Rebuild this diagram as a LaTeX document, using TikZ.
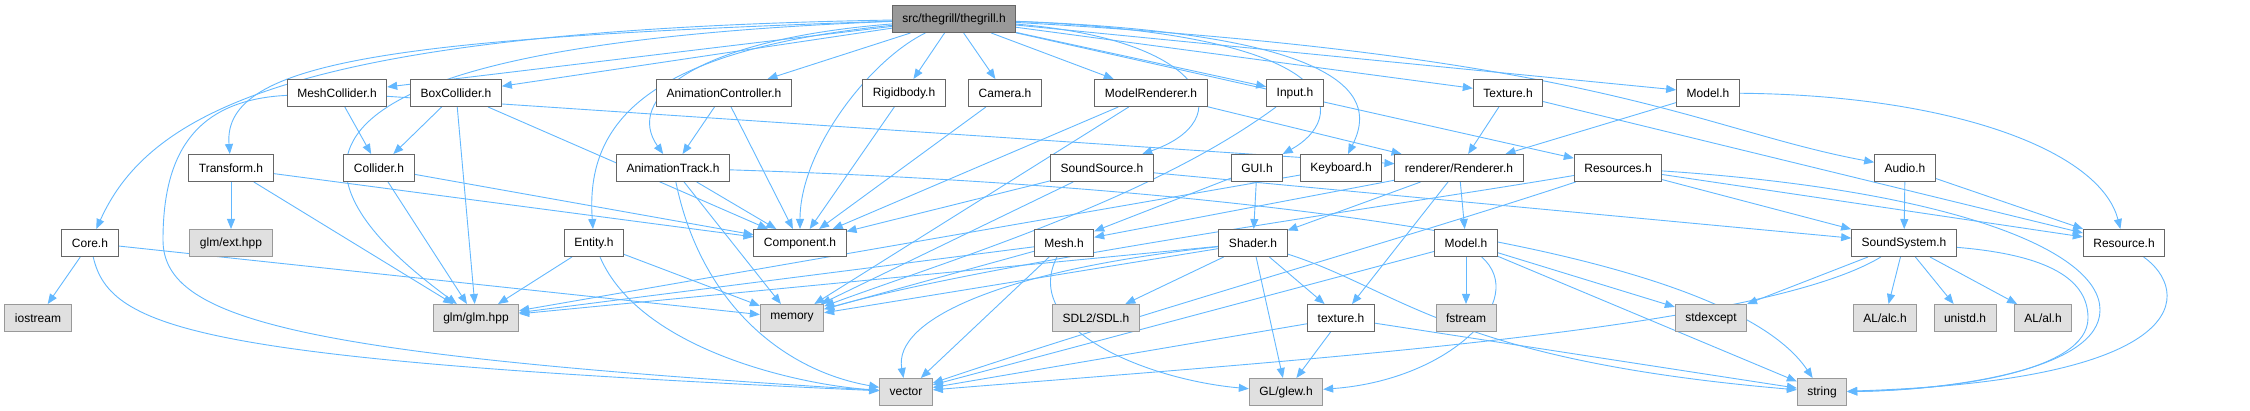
\documentclass[tikz,border=0pt]{standalone}
\usepackage{fontspec}
\setmainfont{Liberation Sans}
\usetikzlibrary{arrows.meta,backgrounds}
\definecolor{edgeblue}{HTML}{63B8FF}
\definecolor{boxline}{HTML}{666666}
\definecolor{sysline}{HTML}{999999}
\definecolor{sysfill}{HTML}{E0E0E0}
\definecolor{rootfill}{HTML}{999999}
\tikzset{
  hdr/.style={draw=boxline, fill=white, line width=1pt, minimum height=27, inner xsep=10, inner ysep=0, font=\fontsize{12}{14}\selectfont},
  sys/.style={hdr, draw=sysline, fill=sysfill},
  rootbox/.style={hdr, fill=rootfill},
  inc/.style={draw=edgeblue, line width=0.9pt, -{Triangle[length=10pt,width=8pt]}},
}
\begin{document}
\begin{tikzpicture}[x=1pt,y=-1pt]
\useasboundingbox (0,0) rectangle (2250,411);
% row 0
\node[rootbox] (r) at (954,19) {src/thegrill/thegrill.h};
% row 1
\node[hdr] (meshc) at (337,93) {MeshCollider.h};
\node[hdr] (boxc) at (456,93) {BoxCollider.h};
\node[hdr] (animctrl) at (724,93) {AnimationController.h};
\node[hdr] (rigid) at (904,93) {Rigidbody.h};
\node[hdr] (cam) at (1005,93) {Camera.h};
\node[hdr] (mrend) at (1151,93) {ModelRenderer.h};
\node[hdr] (input) at (1295,93) {Input.h};
\node[hdr] (Tex) at (1508,93) {Texture.h};
\node[hdr] (modtop) at (1708,93) {Model.h};
% row 2
\node[hdr] (tform) at (231,168) {Transform.h};
\node[hdr] (coll) at (379,168) {Collider.h};
\node[hdr] (animtr) at (673,168) {AnimationTrack.h};
\node[hdr] (ssrc) at (1102,168) {SoundSource.h};
\node[hdr] (gui) at (1257,168) {GUI.h};
\node[hdr] (kbd) at (1341,168) {Keyboard.h};
\node[hdr] (rend) at (1459,168) {renderer/Renderer.h};
\node[hdr] (ress) at (1618,168) {Resources.h};
\node[hdr] (audio) at (1905,168) {Audio.h};
% row 3
\node[hdr] (core) at (90,243) {Core.h};
\node[sys] (glmext) at (231,243) {glm/ext.hpp};
\node[hdr] (ent) at (594,243) {Entity.h};
\node[hdr] (comp) at (800,243) {Component.h};
\node[hdr] (mesh) at (1064,243) {Mesh.h};
\node[hdr] (shader) at (1253,243) {Shader.h};
\node[hdr] (modlow) at (1466,243) {Model.h};
\node[hdr] (ssys) at (1904,243) {SoundSystem.h};
\node[hdr] (res) at (2124,243) {Resource.h};
% row 4
\node[sys] (iostr) at (38,318) {iostream};
\node[sys] (glm) at (476,318) {glm/glm.hpp};
\node[sys] (mem) at (792,318) {memory};
\node[sys] (sdl) at (1096,318) {SDL2/SDL.h};
\node[hdr] (tex) at (1341,318) {texture.h};
\node[sys] (fstr) at (1466,318) {fstream};
\node[sys] (stdex) at (1711,318) {stdexcept};
\node[sys] (alc) at (1885,318) {AL/alc.h};
\node[sys] (unistd) at (1965,318) {unistd.h};
\node[sys] (al) at (2043,318) {AL/al.h};
% row 5
\node[sys] (vec) at (906,392) {vector};
\node[sys] (glew) at (1286,392) {GL/glew.h};
\node[sys] (str) at (1822,392) {string};

\begin{scope}[on background layer]
% from the main header
\draw[inc] (r) .. controls (300,30) and (150,110) .. (core);
\draw[inc] (r) .. controls (400,38) and (222,60) .. (tform);
\draw[inc] (r) -- (meshc);
\draw[inc] (r) -- (boxc);
\draw[inc] (r) .. controls (290,45) and (260,160) .. (glm);
\draw[inc] (r) .. controls (650,50) and (585,120) .. (ent);
\draw[inc] (r) .. controls (690,40) and (625,100) .. (animtr);
\draw[inc] (r) -- (animctrl);
\draw[inc] (r) .. controls (870,60) and (800,150) .. (comp);
\draw[inc] (r) -- (rigid);
\draw[inc] (r) -- (cam);
\draw[inc] (r) -- (mrend);
\draw[inc] (r) .. controls (1210,40) and (1240,120) .. (ssrc);
\draw[inc] (r) -- (input);
\draw[inc] (r) .. controls (1360,35) and (1345,120) .. (gui);
\draw[inc] (r) .. controls (1385,35) and (1370,110) .. (kbd);
\draw[inc] (r) -- (Tex);
\draw[inc] (r) -- (ress);
\draw[inc] (r) -- (modtop);
\draw[inc] (r) .. controls (1600,55) and (1700,130) .. (audio);
% components
\draw[inc] (meshc) -- (coll);
\draw[inc] (meshc) .. controls (190,100) and (163,160) .. (163,240) .. controls (163,320) and (300,355) .. (vec);
\draw[inc] (meshc) -- (rend);
\draw[inc] (boxc) -- (coll);
\draw[inc] (boxc) -- (glm);
\draw[inc] (boxc) -- (comp);
\draw[inc] (tform) -- (glmext);
\draw[inc] (tform) -- (glm);
\draw[inc] (tform) -- (comp);
\draw[inc] (coll) -- (comp);
\draw[inc] (coll) -- (glm);
\draw[inc] (core) -- (iostr);
\draw[inc] (core) -- (mem);
\draw[inc] (core) .. controls (110,330) and (200,360) .. (vec);
\draw[inc] (animctrl) -- (animtr);
\draw[inc] (animctrl) -- (comp);
\draw[inc] (animtr) -- (comp);
\draw[inc] (animtr) -- (mem);
\draw[inc] (animtr) .. controls (700,300) and (780,370) .. (vec);
\draw[inc] (animtr) .. controls (1200,185) and (1720,240) .. (str);
\draw[inc] (ent) -- (glm);
\draw[inc] (ent) -- (mem);
\draw[inc] (ent) .. controls (640,350) and (800,385) .. (vec);
\draw[inc] (rigid) -- (comp);
\draw[inc] (cam) -- (comp);
\draw[inc] (mrend) -- (comp);
\draw[inc] (mrend) -- (mem);
\draw[inc] (mrend) -- (rend);
\draw[inc] (ssrc) -- (comp);
\draw[inc] (ssrc) -- (mem);
\draw[inc] (ssrc) -- (ssys);
\draw[inc] (input) .. controls (1150,200) and (950,260) .. (mem);
\draw[inc] (gui) -- (shader);
\draw[inc] (gui) -- (mesh);
\draw[inc] (kbd) -- (glm);
% renderer and resources
\draw[inc] (rend) -- (mesh);
\draw[inc] (rend) -- (shader);
\draw[inc] (rend) -- (modlow);
\draw[inc] (rend) -- (tex);
\draw[inc] (Tex) -- (rend);
\draw[inc] (Tex) -- (res);
\draw[inc] (modtop) -- (rend);
\draw[inc] (modtop) .. controls (1950,95) and (2100,150) .. (res);
\draw[inc] (ress) .. controls (1400,205) and (1000,260) .. (mem);
\draw[inc] (ress) .. controls (1400,240) and (1150,310) .. (vec);
\draw[inc] (ress) -- (ssys);
\draw[inc] (ress) -- (res);
\draw[inc] (ress) .. controls (1950,190) and (2100,250) .. (2100,310) .. controls (2100,370) and (1950,390) .. (str);
\draw[inc] (audio) -- (ssys);
\draw[inc] (audio) -- (res);
% lower level
\draw[inc] (mesh) -- (glm);
\draw[inc] (mesh) -- (mem);
\draw[inc] (mesh) -- (vec);
\draw[inc] (mesh) .. controls (1020,330) and (1150,380) .. (glew);
\draw[inc] (shader) -- (glm);
\draw[inc] (shader) -- (mem);
\draw[inc] (shader) -- (sdl);
\draw[inc] (shader) -- (tex);
\draw[inc] (shader) -- (glew);
\draw[inc] (shader) .. controls (1000,270) and (893,320) .. (vec);
\draw[inc] (shader) .. controls (1400,290) and (1450,360) .. (str);
\draw[inc] (modlow) -- (fstr);
\draw[inc] (modlow) -- (stdex);
\draw[inc] (modlow) -- (str);
\draw[inc] (modlow) -- (vec);
\draw[inc] (modlow) .. controls (1530,300) and (1450,380) .. (glew);
\draw[inc] (tex) -- (glew);
\draw[inc] (tex) -- (vec);
\draw[inc] (tex) -- (str);
\draw[inc] (ssys) -- (stdex);
\draw[inc] (ssys) -- (alc);
\draw[inc] (ssys) -- (unistd);
\draw[inc] (ssys) -- (al);
\draw[inc] (ssys) .. controls (1760,330) and (1300,360) .. (vec);
\draw[inc] (ssys) .. controls (2050,255) and (2088,280) .. (2088,318) .. controls (2088,372) and (1950,390) .. (str);
\draw[inc] (res) .. controls (2190,290) and (2200,380) .. (str);
\end{scope}
\end{tikzpicture}
\end{document}
